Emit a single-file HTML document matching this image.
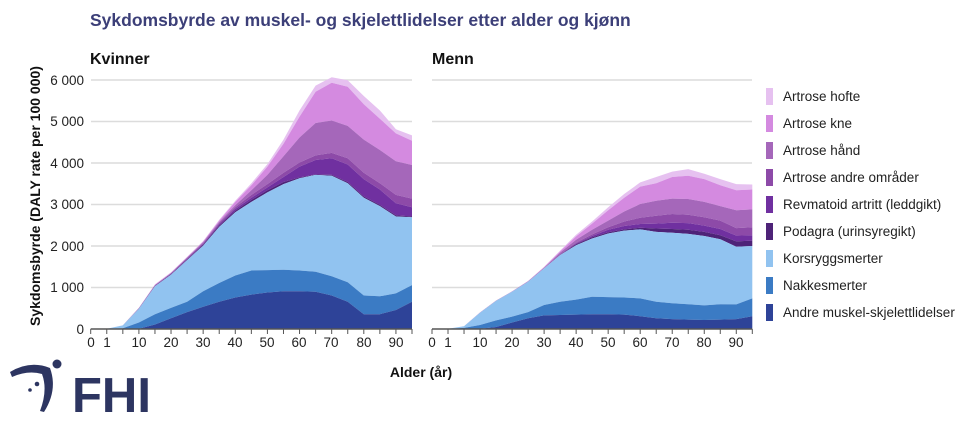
<!DOCTYPE html>
<html><head><meta charset="utf-8"><style>
html,body{margin:0;padding:0;background:#fff;}
svg{display:block;font-family:"Liberation Sans",sans-serif;}
</style></head><body>
<svg id="s" width="970" height="430" viewBox="0 0 970 430" xmlns="http://www.w3.org/2000/svg">
<text x="90" y="26" font-size="17.5" font-weight="bold" fill="#3c3f78">Sykdomsbyrde av muskel- og skjelettlidelser etter alder og kjønn</text>
<text x="90" y="64" font-size="16" font-weight="bold" fill="#111">Kvinner</text>
<text x="432" y="64" font-size="16" font-weight="bold" fill="#111">Menn</text>
<g stroke="#dcdcdc" stroke-width="1.5">
<line x1="91" x2="412" y1="80" y2="80"/><line x1="91" x2="412" y1="121.5" y2="121.5"/><line x1="91" x2="412" y1="163" y2="163"/><line x1="91" x2="412" y1="204.5" y2="204.5"/><line x1="91" x2="412" y1="246" y2="246"/><line x1="91" x2="412" y1="287.5" y2="287.5"/>
<line x1="432" x2="752" y1="80" y2="80"/><line x1="432" x2="752" y1="121.5" y2="121.5"/><line x1="432" x2="752" y1="163" y2="163"/><line x1="432" x2="752" y1="204.5" y2="204.5"/><line x1="432" x2="752" y1="246" y2="246"/><line x1="432" x2="752" y1="287.5" y2="287.5"/>
</g>
<g id="areas"></g>
<g font-size="13.5" fill="#222" text-anchor="end">
<text x="84" y="85">6 000</text><text x="84" y="126">5 000</text><text x="84" y="168">4 000</text><text x="84" y="209">3 000</text><text x="84" y="251">2 000</text><text x="84" y="292">1 000</text><text x="84" y="334">0</text>
</g>
<text transform="translate(40,196) rotate(-90)" font-size="14" font-weight="bold" fill="#111" text-anchor="middle">Sykdomsbyrde (DALY rate per 100 000)</text>
<g font-size="13.5" fill="#222" text-anchor="middle">
<text x="91" y="347">0</text><text x="107" y="347">1</text><text x="139" y="347">10</text><text x="171" y="347">20</text><text x="203" y="347">30</text><text x="235" y="347">40</text><text x="267" y="347">50</text><text x="299" y="347">60</text><text x="331" y="347">70</text><text x="364" y="347">80</text><text x="396" y="347">90</text>
<text x="432" y="347">0</text><text x="448" y="347">1</text><text x="480" y="347">10</text><text x="512" y="347">20</text><text x="544" y="347">30</text><text x="576" y="347">40</text><text x="608" y="347">50</text><text x="640" y="347">60</text><text x="672" y="347">70</text><text x="704" y="347">80</text><text x="736" y="347">90</text>
</g>
<text x="421" y="377" font-size="14" font-weight="bold" fill="#111" text-anchor="middle">Alder (år)</text>
<g font-size="13.5" fill="#222">
<rect x="766" y="88" width="7" height="17" fill="#e6c1f0"/><text x="783" y="101">Artrose hofte</text>
<rect x="766" y="115" width="7" height="17" fill="#d48ae0"/><text x="783" y="128">Artrose kne</text>
<rect x="766" y="142" width="7" height="17" fill="#a567ba"/><text x="783" y="155">Artrose hånd</text>
<rect x="766" y="169" width="7" height="17" fill="#8d4aa8"/><text x="783" y="182">Artrose andre områder</text>
<rect x="766" y="196" width="7" height="17" fill="#7030a0"/><text x="783" y="209">Revmatoid artritt (leddgikt)</text>
<rect x="766" y="223" width="7" height="17" fill="#4e2378"/><text x="783" y="236">Podagra (urinsyregikt)</text>
<rect x="766" y="250" width="7" height="17" fill="#91c3f0"/><text x="783" y="263">Korsryggsmerter</text>
<rect x="766" y="277" width="7" height="17" fill="#3b7bc4"/><text x="783" y="290">Nakkesmerter</text>
<rect x="766" y="304" width="7" height="17" fill="#2e4398"/><text x="783" y="317">Andre muskel-skjelettlidelser</text>
</g>
<g fill="#2d3561">
<path d="M10 372 Q30 360 50 368 Q58 390 44 412 L40 411 Q48 390 42 374 Q28 370 12 377 Z"/>
<circle cx="57" cy="364" r="4.5"/><circle cx="37" cy="384" r="2.3"/><circle cx="30" cy="390" r="1.8"/>
<text x="72" y="412" font-size="49" font-weight="bold">FHI</text>
</g>
</svg>
<script>
var cols=["#2e4398","#3b7bc4","#91c3f0","#4e2378","#7030a0","#8d4aa8","#a567ba","#d48ae0","#e6c1f0"];
var W=[[0,0,0,0,100,250,400,530,650,750,820,870,900,900,890,800,650,350,350,450,650],
[0,0,10,150,350,500,650,900,1100,1280,1400,1410,1420,1400,1370,1260,1120,800,780,850,1050],
[0,0,80,480,1020,1300,1650,2000,2450,2800,3050,3280,3480,3620,3700,3680,3500,3150,2950,2700,2680],
[0,0,80,485,1030,1310,1665,2020,2480,2840,3100,3330,3530,3640,3710,3700,3530,3180,2980,2730,2700],
[0,0,80,490,1040,1320,1680,2040,2510,2880,3150,3400,3650,3900,4060,4100,3950,3600,3350,3020,2920],
[0,0,80,490,1045,1330,1700,2060,2540,2920,3220,3480,3750,4000,4170,4230,4100,3750,3500,3220,3130],
[0,0,80,495,1050,1340,1710,2080,2570,2970,3330,3700,4150,4600,4950,5010,4880,4550,4300,4030,3940],
[0,0,80,500,1060,1350,1720,2100,2600,3050,3450,3900,4450,5100,5700,5920,5820,5400,5050,4700,4520],
[0,0,85,505,1070,1360,1730,2110,2620,3080,3500,3960,4550,5250,5850,6050,5980,5600,5250,4800,4650]];
var M=[[0,0,0,0,40,150,250,320,330,340,350,350,340,300,250,230,220,210,220,230,300],
[0,0,20,90,200,290,400,570,650,700,770,760,750,730,650,610,590,560,590,585,730],
[0,0,60,385,670,890,1130,1450,1770,2010,2170,2290,2360,2390,2330,2310,2280,2230,2150,1970,1990],
[0,0,60,386,671,891,1132,1452,1775,2030,2200,2320,2390,2430,2410,2400,2380,2330,2250,2100,2120],
[0,0,60,387,672,892,1134,1456,1785,2050,2230,2380,2470,2520,2530,2550,2540,2480,2400,2240,2250],
[0,0,60,388,673,894,1137,1462,1800,2070,2270,2440,2580,2670,2720,2760,2740,2680,2600,2420,2440],
[0,0,60,389,675,896,1140,1470,1830,2140,2380,2600,2820,3000,3080,3130,3120,3050,2950,2850,2870],
[0,0,60,390,677,898,1145,1480,1860,2220,2530,2850,3150,3420,3500,3650,3680,3600,3450,3330,3350],
[0,0,62,392,680,900,1150,1490,1880,2260,2580,2920,3240,3520,3650,3780,3840,3730,3600,3480,3470]];
function draw(D,x0,x1){var g=document.getElementById("areas"),ns="http://www.w3.org/2000/svg",n=21,dx=(x1-x0)/20;
function Y(v){return 328.7-v*0.04156;}
for(var k=D.length-1;k>=0;k--){var p="";for(var i=0;i<n;i++)p+=(i?"L":"M")+(x0+i*dx).toFixed(1)+" "+Y(D[k][i]).toFixed(1);
for(var i=n-1;i>=0;i--)p+="L"+(x0+i*dx).toFixed(1)+" "+Y(k?D[k-1][i]:0).toFixed(1);
var e=document.createElementNS(ns,"path");e.setAttribute("d",p+"Z");e.setAttribute("fill",cols[k]);g.appendChild(e);}
var a=document.createElementNS(ns,"line");a.setAttribute("x1",x0);a.setAttribute("x2",x1);a.setAttribute("y1",329);a.setAttribute("y2",329);a.setAttribute("stroke","#555");a.setAttribute("stroke-width","1.5");g.appendChild(a);
for(var i=0;i<n;i++){var t=document.createElementNS(ns,"line");t.setAttribute("x1",x0+i*dx);t.setAttribute("x2",x0+i*dx);t.setAttribute("y1",329);t.setAttribute("y2",334);t.setAttribute("stroke","#555");g.appendChild(t);}}
draw(W,90.7,412);draw(M,432,752.3);
</script>
</body></html>
